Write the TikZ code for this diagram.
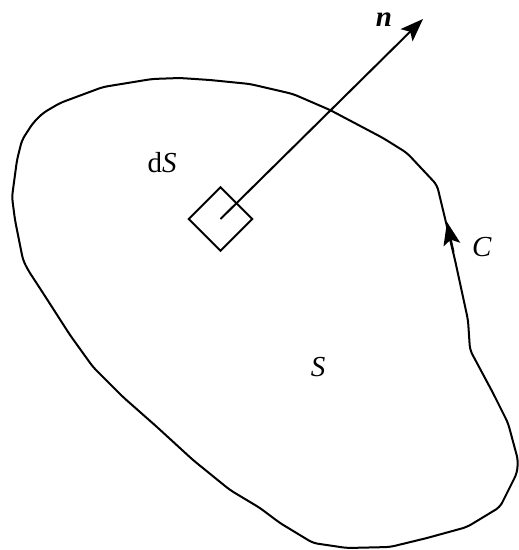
\documentclass[tikz,border=0pt]{standalone}
\usepackage{fontspec}
\setmainfont{Liberation Serif}
\usetikzlibrary{arrows.meta}
\begin{document}
\begin{tikzpicture}[x=1pt,y=-1pt,
  outline/.style={line width=2pt, line join=round, rounded corners=5pt},
  vec/.style={line width=2pt, -{Stealth[length=23pt,width=17pt,inset=5pt]}},
  lbl/.style={font=\fontsize{29}{30}\selectfont, inner sep=0pt}]
\useasboundingbox (0,0) rectangle (519,550);
% boundary curve C
\draw[outline] (152,79) -- (180,78) -- (210,80) -- (250,84) -- (293,94)
  -- (330,110) -- (383,138) -- (407,153) -- (437,185) -- (455,260)
  -- (468,320) -- (470,350) -- (493,393) -- (508,423) -- (518,460) -- (517,473)
  -- (500,507) -- (467,527) -- (427,538) -- (390,547) -- (347,548) -- (313,543)
  -- (280,523) -- (260,508) -- (230,490) -- (193,460) -- (157,427) -- (123,397)
  -- (93,367) -- (70,335) -- (43,293) -- (28,270) -- (23,260) -- (15,220)
  -- (12,197) -- (17,160) -- (22,140) -- (33,123) -- (43,113) -- (60,103)
  -- (103,87) -- cycle;
% orientation arrow on C
\coordinate (ca) at (453.5,252);
\coordinate (cb) at (447,222);
\draw[vec] (ca) -- (cb);
% surface element
\node[draw, line width=2pt, minimum size=45pt, rotate=45, inner sep=0pt] (sq) at (220.5,219) {};
% normal vector
\coordinate (ntip) at (423,19);
\draw[vec] (sq.center) -- (ntip);
% labels
\node[lbl] (ldS) at (162,163) {d\textit{S}};
\node[lbl] (lS) at (318,367) {\textit{S}};
\node[lbl] (lC) at (482,247) {\textit{C}};
\node[lbl] (ln) at (384,20) {\textbf{\textit{n}}};
\end{tikzpicture}
\end{document}
